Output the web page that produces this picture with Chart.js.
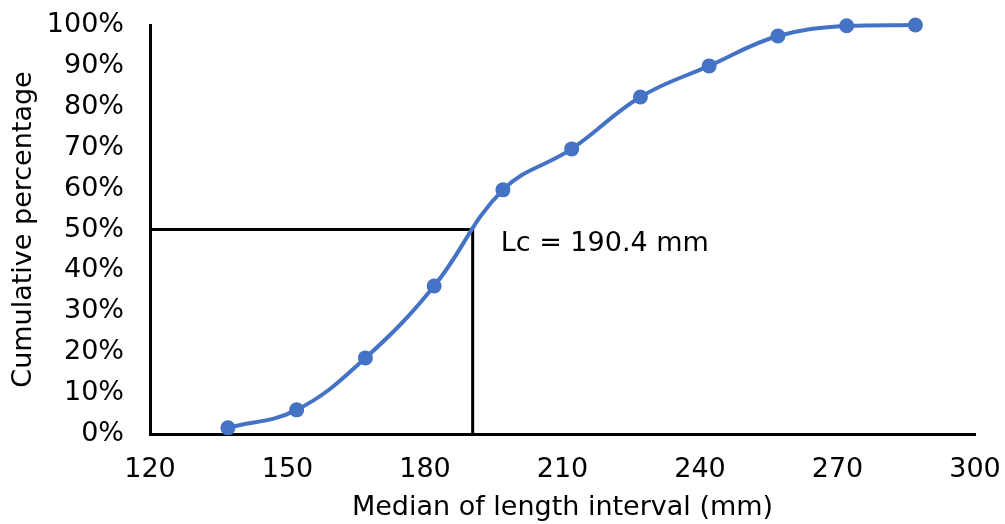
<!DOCTYPE html>
<html lang="en">
<head>
    <meta charset="UTF-8">
    <title>Cumulative length curve</title>
    <script src="https://cdn.jsdelivr.net/npm/chart.js"></script>
    <style>
        body { margin: 0; background: #ffffff; }
        #wrap { width: 1005px; height: 524px; }
    </style>
</head>
<body>
<div id="wrap"><canvas id="lcChart" width="1005" height="524"></canvas></div>

<script>
    // median of each length interval (mm) and cumulative percentage
    const lengths = [137, 152, 167, 182, 197, 212, 227, 242, 257, 272, 287];
    const cumPercent = [1.5, 5.9, 18.6, 36.2, 59.7, 69.7, 82.4, 90.0, 97.3, 99.8, 100];

    // 50% retention length
    const lcValue = 190.4;
    const lcLevel = 50;
    const lcLabel = 'Lc = 190.4 mm';

    const xTicks = [120, 150, 180, 210, 240, 270, 300];
    const yTicks = [0, 10, 20, 30, 40, 50, 60, 70, 80, 90, 100];

    const fontFamily = "'DejaVu Sans', Verdana, sans-serif";
    const fontSize = 27;

    // text next to the Lc corner
    const lcText = {
        id: 'lcText',
        afterDatasetsDraw(chart) {
            const ctx = chart.ctx;
            const x = chart.scales.x.getPixelForValue(lcValue) + 28;
            const y = chart.scales.y.getPixelForValue(lcLevel) + 14;
            ctx.save();
            ctx.font = fontSize + 'px ' + fontFamily;
            ctx.fillStyle = '#000';
            ctx.textBaseline = 'middle';
            ctx.fillText(lcLabel, x, y);
            ctx.restore();
        }
    };

    new Chart(document.getElementById('lcChart'), {
        type: 'line',
        data: {
            datasets: [{
                data: lengths.map((v, i) => ({ x: v, y: cumPercent[i] })),
                borderColor: '#4472C4',
                backgroundColor: '#4472C4',
                borderWidth: 4,
                pointRadius: 7.5,
                pointBorderWidth: 0,
                tension: 0.4,
                clip: false
            }, {
                data: [
                    { x: xTicks[0], y: lcLevel },
                    { x: lcValue, y: lcLevel },
                    { x: lcValue, y: 0 }
                ],
                borderColor: '#000',
                borderWidth: 3,
                pointRadius: 0,
                tension: 0
            }]
        },
        options: {
            responsive: false,
            animation: false,
            layout: { padding: { top: 25, right: 30, left: 8, bottom: 0 } },
            plugins: { legend: { display: false }, tooltip: { enabled: false } },
            scales: {
                x: {
                    type: 'linear',
                    min: xTicks[0],
                    max: xTicks[xTicks.length - 1],
                    afterBuildTicks: s => { s.ticks = xTicks.map(v => ({ value: v })); },
                    afterFit: s => { s.height = 90; s.paddingLeft = 0; s.paddingRight = 0; },
                    grid: { display: false, drawTicks: false },
                    border: { color: '#000', width: 3 },
                    ticks: { color: '#000', padding: 20, font: { family: fontFamily, size: fontSize } },
                    title: {
                        display: true,
                        text: 'Median of length interval (mm)',
                        color: '#000',
                        padding: { top: 8, bottom: 0 },
                        font: { family: fontFamily, size: fontSize }
                    }
                },
                y: {
                    min: 0,
                    max: 100,
                    afterBuildTicks: s => { s.ticks = yTicks.map(v => ({ value: v })); },
                    afterFit: s => { s.width = 142; s.paddingTop = 0; s.paddingBottom = 0; },
                    grid: { display: false, drawTicks: false },
                    border: { color: '#000', width: 3 },
                    ticks: {
                        color: '#000',
                        padding: 26,
                        font: { family: fontFamily, size: fontSize },
                        callback: v => v + '%'
                    },
                    title: {
                        display: true,
                        text: 'Cumulative percentage',
                        color: '#000',
                        padding: { top: 0, bottom: 0 },
                        font: { family: fontFamily, size: fontSize }
                    }
                }
            }
        },
        plugins: [lcText]
    });
</script>
</body>
</html>
